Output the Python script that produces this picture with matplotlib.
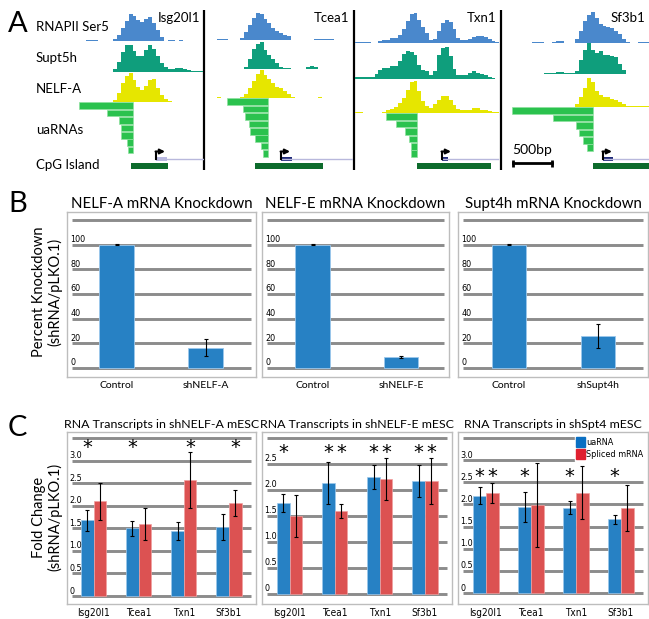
import numpy as np
import matplotlib
matplotlib.use("Agg")
import matplotlib.pyplot as plt
from matplotlib import font_manager
from matplotlib.patches import Patch

W, H = 649, 619
BP_PER_PX = 500 / 39
BIN = 50

_names = {f.name for f in font_manager.fontManager.ttflist}
NARROW = "Liberation Sans Narrow" if "Liberation Sans Narrow" in _names else "DejaVu Sans"
plt.rcParams["font.family"] = ["Lato", "DejaVu Sans"]

# ---------------- panel A data (coverage in 50bp bins: first bin, heights) ----------------
GENES = ["Isg20l1", "Tcea1", "Txn1", "Sf3b1"]
TRACK_NAMES = ["RNAPII Ser5", "Supt5h", "NELF-A", "uaRNAs", "CpG Island"]

pol2 = {
    "Isg20l1": (2, [1, 1, 1, 0, 0, 0, 0, 2, 6, 13, 20, 27, 25, 21, 19, 22, 24, 18, 11, 4, 0, 1, 1, 0, 1]),
    "Tcea1": (3, [1, 1, 1, 0, 0, 0, 2, 8, 15, 22, 27, 26, 21, 17, 12, 9, 7, 5, 4, 0, 0, 0, 0, 0, 0, 1, 1, 1, 1, 1]),
    "Txn1": (0, [1, 1, 1, 1, 0, 0, 2, 3, 3, 5, 5, 8, 14, 22, 29, 30, 23, 16, 10, 3, 4, 12, 20, 23, 21, 14, 5, 3, 3, 4, 6, 7, 7, 6, 4, 2, 1]),
    "Sf3b1": (7, [1, 1, 1, 0, 0, 1, 2, 2, 0, 0, 0, 4, 12, 22, 28, 31, 25, 19, 17, 16, 15, 12, 9, 4, 1, 0, 0, 1, 1, 1]),
}
supt5h = {
    "Isg20l1": (9, [3, 10, 20, 27, 27, 21, 16, 16, 22, 27, 23, 16, 9, 5, 3, 3, 4, 4, 3, 2, 1, 1, 1]),
    "Tcea1": (10, [2, 10, 20, 25, 27, 19, 14, 10, 6, 2, 1, 1, 0, 0, 0, 0, 2, 3, 2]),
    "Txn1": (0, [2, 2, 2, 2, 2, 5, 9, 11, 11, 13, 13, 18, 25, 28, 27, 24, 14, 9, 8, 4, 8, 24, 31, 32, 23, 10, 4, 4, 4, 6, 8, 6, 5, 4, 2, 1]),
    "Sf3b1": (10, [1, 1, 1, 2, 2, 1, 1, 1, 3, 14, 24, 31, 24, 21, 23, 19, 19, 18, 17, 10, 4]),
}
nelfa = {
    "Isg20l1": (9, [2, 9, 19, 26, 29, 22, 15, 12, 16, 22, 23, 14, 7, 3, 1]),
    "Tcea1": (3, [1, 0, 0, 0, 0, 0, 1, 4, 10, 17, 24, 28, 23, 19, 15, 11, 10, 7, 4, 1, 0, 0, 0, 0, 0, 0, 1]),
    "Txn1": (0, [1, 1, 0, 0, 0, 0, 0, 1, 3, 4, 6, 10, 15, 23, 31, 32, 22, 12, 7, 5, 9, 13, 17, 17, 13, 8, 4, 3, 3, 3, 5, 5, 3, 3, 2, 1, 1]),
    "Sf3b1": (18, [3, 10, 19, 29, 25, 16, 12, 10, 10, 8, 7, 5, 3, 1, 1, 1, 1, 1, 1]),
}
uarna_end = {"Isg20l1": 700, "Tcea1": 810, "Txn1": 795, "Sf3b1": 1130}
uarna_len = {
    "Isg20l1": [690, 330, 170, 150, 150, 70, 60],
    "Tcea1": [525, 320, 295, 245, 230, 165, 90, 65],
    "Txn1": [397, 270, 155, 105, 75, 75],
    "Sf3b1": [1040, 515, 220, 180, 130, 75],
}
cpg = {"Isg20l1": (680, 1150), "Tcea1": (640, 1510), "Txn1": (795, 1745), "Sf3b1": (1128, 1846)}
tss = {"Isg20l1": 1000, "Tcea1": 975, "Txn1": 1115, "Sf3b1": 1256}
exon_end = {"Isg20l1": 1140, "Tcea1": 1115, "Txn1": 1192, "Sf3b1": 1385}
gene_end = {"Isg20l1": 1603, "Tcea1": 1897, "Txn1": 1833, "Sf3b1": 1846}

# ---------------- panel B data ----------------
kd_titles = ["NELF-A mRNA Knockdown", "NELF-E mRNA Knockdown", "Supt4h mRNA Knockdown"]
kd_labels = [["Control", "shNELF-A"], ["Control", "shNELF-E"], ["Control", "shSupt4h"]]
kd_values = [[100, 16.5], [100, 9], [100, 26]]
kd_err = [[0.6, 7], [0.6, 0.6], [0.6, 10]]
kd_ticks = [0, 20, 40, 60, 80, 100, 120]

# ---------------- panel C data ----------------
fc_genes = ["Isg20l1", "Tcea1", "Txn1", "Sf3b1"]
fc_titles = ["RNA Transcripts in shNELF-A mESC", "RNA Transcripts in shNELF-E mESC",
             "RNA Transcripts in shSpt4 mESC"]
ua_fc = [[1.68, 1.50, 1.44, 1.53], [1.75, 2.13, 2.25, 2.17], [2.20, 1.95, 1.93, 1.66]]
ua_fc_err = [[0.23, 0.17, 0.20, 0.28], [0.17, 0.40, 0.24, 0.31], [0.19, 0.34, 0.15, 0.11]]
mrna_fc = [[2.10, 1.59, 2.57, 2.06], [1.50, 1.60, 2.21, 2.17], [2.26, 1.99, 2.26, 1.93]]
mrna_fc_err = [[0.41, 0.35, 0.62, 0.28], [0.40, 0.13, 0.40, 0.44], [0.22, 0.94, 0.60, 0.52]]
signif = [["u", "u", "m", "m"], ["u", "um", "um", "um"], ["um", "u", "u", "u"]]
fc_top = [3.5, 3.0, 3.5]

# ---------------- layout (pixels) ----------------
WIN = {"Isg20l1": (78, 204), "Tcea1": (205, 353), "Txn1": (355, 500), "Sf3b1": (505, 649)}
BASE = {"Isg20l1": (41, 72, 102), "Tcea1": (40, 69, 98), "Txn1": (43, 79, 113), "Sf3b1": (43, 74, 107)}
EXON_COLOR = {"Isg20l1": "#b9b9e2", "Tcea1": "#1f2a78", "Txn1": "#1f2a78", "Sf3b1": "#1f2a78"}
TRACK_COLORS = ["#4a88cc", "#0f9e7c", "#e6e600"]
B_BOX = [(67, 212, 256, 377), (262, 212, 449, 377), (458, 212, 648, 377)]
B_CENTERS = [(116.5, 205.5), (312.5, 401), (509, 598)]
C_BOX = [(67, 432, 256, 604), (262, 432, 452, 604), (458, 432, 648, 604)]
C_CENTERS = [(93.5, 229), (289.5, 425), (486, 621)]
C_ZERO = [(596, 438), (594, 438), (593, 438)]
STAR_Y = [3.3, 2.72, 2.64]

BLUE, RED = "#2781c4", "#dc5252"
GRID = "#8c8c8c"

fig = plt.figure(figsize=(W / 100, H / 100), dpi=100)
canvas = fig.add_axes([0, 0, 1, 1])
canvas.set_xlim(0, W)
canvas.set_ylim(H, 0)
canvas.axis("off")


def px_axes(x0, y0, x1, y1):
    return fig.add_axes([x0 / W, 1 - y1 / H, (x1 - x0) / W, (y1 - y0) / H])


def fit_limits(ax, box, c_first, c_last, n, zero_px, top_px, top_val):
    x0, y0, x1, y1 = box
    sx = (c_last - c_first) / (n - 1)
    ax.set_xlim(-(c_first - x0) / sx, (n - 1) + (x1 - c_last) / sx)
    sy = (zero_px - top_px) / top_val
    ax.set_ylim(-(y1 - zero_px) / sy, top_val + (top_px - y0) / sy)


def style_box(ax, ticks):
    for s in ax.spines.values():
        s.set_color("#bdbdbd")
        s.set_linewidth(1)
    ax.set_yticks([])
    ax.hlines(ticks, 0.026, 0.974, transform=ax.get_yaxis_transform(), color=GRID, lw=2.1, zorder=1)
    ax.tick_params(axis="x", length=0, pad=3)


# ---------------- panel A ----------------
for g in GENES:
    left, right = WIN[g]
    ax = px_axes(left, 0, right, 172)
    ax.set_xlim(0, (right - left) * BP_PER_PX)
    ax.set_ylim(172, 0)
    ax.axis("off")
    for track, color, base in zip((pol2, supt5h, nelfa), TRACK_COLORS, BASE[g]):
        k0, h = track[g]
        edges = (k0 + np.arange(len(h) + 1)) * BIN
        ax.stairs(base - np.array(h, float), edges, baseline=base, fill=True, color=color, lw=0)
    lens = np.array(uarna_len[g])
    ys = BASE[g][2] + 3.7 + 7.4 * np.arange(len(lens))
    ax.barh(ys, lens, left=uarna_end[g] - lens, height=6.6, color="#2bc24e",
            edgecolor="#8fe0a0", lw=0.5)
    c0, c1 = cpg[g]
    ax.barh(166, c1 - c0, left=c0, height=6, color="#0d6b2c")
    ax.plot([tss[g], gene_end[g]], [159, 159], color="#b8b8dc", lw=1)
    ax.barh(159, exon_end[g] - tss[g], left=tss[g], height=4, color=EXON_COLOR[g])
    ax.plot([tss[g], tss[g]], [159, 151.5], color="k", lw=1.5)
    ax.annotate("", xy=(tss[g] + 9 * BP_PER_PX, 151.5), xytext=(tss[g] - 6, 151.5),
                arrowprops=dict(arrowstyle="-|>", color="k", lw=1.5, mutation_scale=7,
                                shrinkA=0, shrinkB=0))
    ax.text(1 - 4 / (right - left), 1 - 18 / 172, g, transform=ax.transAxes, ha="right",
            va="center", fontsize=9.5)
    if g == "Sf3b1":
        ax.plot([100, 600], [163, 163], color="k", lw=2)
        ax.vlines([100, 600], 159.5, 166.5, color="k", lw=2)
        ax.text(350, 150, "500bp", ha="center", va="center", fontsize=10)

canvas.vlines([204, 353.5, 500.5], 10, 170, color="k", lw=1.6)
canvas.text(8, 24, "A", fontsize=21, va="center")
for name, y in zip(TRACK_NAMES, [27, 58, 89, 130, 165]):
    canvas.text(36, y, name, fontsize=9.5, va="center")

# ---------------- panel B ----------------
canvas.text(8, 204, "B", fontsize=21, va="center")
canvas.text(47, 292, "Percent Knockdown\n(shRNA/pLKO.1)", rotation=90, ha="center",
            va="center", fontsize=10.5, linespacing=1.15)
for i in range(3):
    ax = px_axes(*B_BOX[i])
    fit_limits(ax, B_BOX[i], B_CENTERS[i][0], B_CENTERS[i][1], 2, 368, 220, 120)
    style_box(ax, kd_ticks)
    ax.bar([0, 1], kd_values[i], width=0.39, color=BLUE, edgecolor="#9cc8ec", lw=0.6,
           yerr=kd_err[i], error_kw=dict(ecolor="k", elinewidth=0.8, capsize=1.5, capthick=0.8),
           zorder=2)
    for t in kd_ticks[:-1]:
        ax.text(0.018, t + 0.5, str(t), transform=ax.get_yaxis_transform(), fontsize=6.5,
                family=NARROW, stretch="condensed", va="bottom", zorder=3)
    ax.set_xticks([0, 1], kd_labels[i], fontsize=7.5)
    ax.set_title(kd_titles[i], fontsize=10.8, pad=3)

# ---------------- panel C ----------------
canvas.text(8, 428, "C", fontsize=21, va="center")
canvas.text(47, 517, "Fold Change\n(shRNA/pLKO.1)", rotation=90, ha="center",
            va="center", fontsize=10.5, linespacing=1.15)
x = np.arange(len(fc_genes))
w = 0.28
for i in range(3):
    ax = px_axes(*C_BOX[i])
    fit_limits(ax, C_BOX[i], C_CENTERS[i][0], C_CENTERS[i][1], 4, C_ZERO[i][0], C_ZERO[i][1], fc_top[i])
    ticks = np.arange(0, fc_top[i] + 0.01, 0.5)
    style_box(ax, ticks)
    ek = dict(ecolor="k", elinewidth=0.8, capsize=1.5, capthick=0.8)
    ax.bar(x - w / 2, ua_fc[i], width=w, color=BLUE, edgecolor="#9cc8ec", lw=0.5,
           yerr=ua_fc_err[i], error_kw=ek, zorder=2)
    ax.bar(x + w / 2, mrna_fc[i], width=w, color=RED, edgecolor="#f0a0a0", lw=0.5,
           yerr=mrna_fc_err[i], error_kw=ek, zorder=2)
    for t in ticks[:-1]:
        lab = "0" if t == 0 else f"{t:.1f}"
        ax.text(0.012, t + 0.01, lab, transform=ax.get_yaxis_transform(), fontsize=6.5,
                family=NARROW, stretch="condensed", va="bottom", zorder=3)
    for j, s in enumerate(signif[i]):
        for key, off in (("u", -w / 2), ("m", w / 2)):
            if key in s:
                ax.text(j + off, STAR_Y[i], "*", ha="center", va="center", fontsize=14,
                        family="DejaVu Sans", zorder=4)
    ax.set_xticks(x, fc_genes, fontsize=7.2, family=NARROW, stretch="condensed")
    ax.set_title(fc_titles[i], fontsize=8.9, pad=3)
    if i == 2:
        leg = ax.legend(handles=[Patch(color="#0a6fc2", label="uaRNA"),
                                 Patch(color="#e02030", label="Spliced mRNA")],
                        loc="upper right", bbox_to_anchor=(1.0, 1.0), frameon=True,
                        fancybox=False, edgecolor="white", framealpha=1, fontsize=6.5,
                        handlelength=0.9, handleheight=1.4, handletextpad=0.2,
                        labelspacing=0.2, borderpad=0.2, borderaxespad=0.3)
        for t in leg.get_texts():
            t.set_family(NARROW)
            t.set_stretch("condensed")
        leg.set_zorder(5)

fig.savefig("out.png", dpi=100)
